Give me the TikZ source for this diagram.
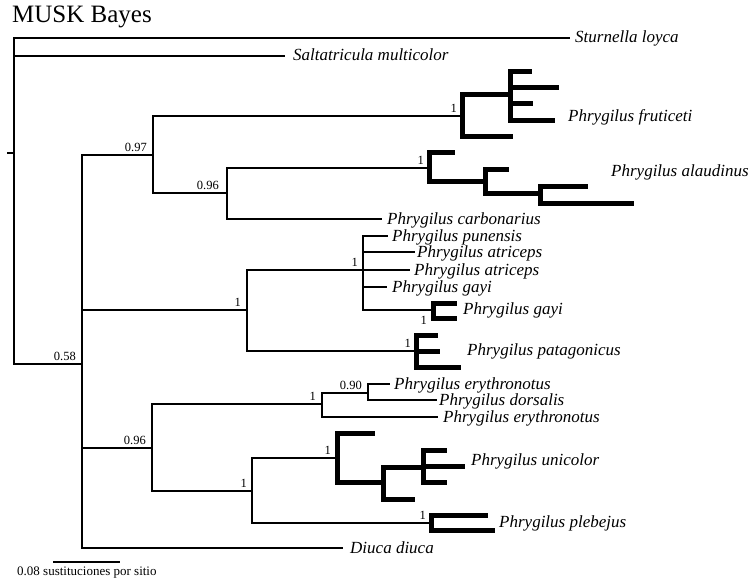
\documentclass[tikz,border=0pt]{standalone}
\usepackage{fontspec}
\setmainfont{Liberation Serif}
\begin{document}
\begin{tikzpicture}[x=1pt,y=-1pt,
  branch/.style={line width=2.8pt, line join=miter},
  clade/.style={line width=5pt, line join=miter},
  taxon/.style={anchor=base west, inner sep=0pt, font=\fontsize{17}{20}\selectfont\itshape},
  support/.style={anchor=base east, inner sep=0pt, font=\fontsize{12.5}{14}\selectfont},
]
\useasboundingbox (0,0) rectangle (750,583);

% title
\node[anchor=base west, inner sep=0pt, font=\fontsize{25}{30}\selectfont] (title) at (12,23) {MUSK Bayes};

% ---- internal nodes (x of the split, y of the incoming branch)
\coordinate (stub)  at (7,153);
\coordinate (root)  at (14,153);
\coordinate (n058)  at (82,364);
\coordinate (n097)  at (153,155);
\coordinate (nfru)  at (462,116);
\coordinate (nfruB) at (510,95);
\coordinate (n096a) at (227,193);
\coordinate (nala)  at (429,168);
\coordinate (nalaB) at (485,182);
\coordinate (nalaC) at (540,194);
\coordinate (n1a)   at (247,310);
\coordinate (npun)  at (363,270);
\coordinate (ngay)  at (433,310);
\coordinate (npat)  at (416,351);
\coordinate (n096b) at (152,448);
\coordinate (nery)  at (322,404);
\coordinate (n090)  at (368,393);
\coordinate (nuniA) at (252,491);
\coordinate (nuni)  at (337,458);
\coordinate (nuniB) at (383,482);
\coordinate (nuniC) at (423,467);
\coordinate (nple)  at (431,523);

% ---- tips
\coordinate (tStu)  at (570,38);
\coordinate (tSal)  at (285,56);
\coordinate (tFru1) at (532,72);
\coordinate (tFru2) at (559,88);
\coordinate (tFru3) at (533,104);
\coordinate (tFru4) at (555,121);
\coordinate (tFru5) at (513,137);
\coordinate (tAla1) at (455,153);
\coordinate (tAla2) at (509,170);
\coordinate (tAla3) at (588,187);
\coordinate (tAla4) at (634,203);
\coordinate (tCar)  at (382,219);
\coordinate (tPun)  at (388,236);
\coordinate (tAtr1) at (415,252);
\coordinate (tAtr2) at (410,270);
\coordinate (tGay1) at (387,287);
\coordinate (tGay2) at (457,303);
\coordinate (tGay3) at (457,318);
\coordinate (tPat1) at (438,335);
\coordinate (tPat2) at (440,351);
\coordinate (tPat3) at (461,367);
\coordinate (tEry1) at (390,384);
\coordinate (tDor)  at (437,400);
\coordinate (tEry2) at (438,417);
\coordinate (tUni1) at (375,433);
\coordinate (tUni2) at (447,450);
\coordinate (tUni3) at (465,466);
\coordinate (tUni4) at (447,482);
\coordinate (tUni5) at (415,499);
\coordinate (tPle1) at (488,515);
\coordinate (tPle2) at (495,530);
\coordinate (tDiu)  at (343,548);

% ---- thin branches
\draw[branch] (stub) -- (root);
\foreach \c in {tStu,tSal,n058} \draw[branch] (root) |- (\c);
\foreach \c in {n097,n1a,n096b,tDiu} \draw[branch] (n058) |- (\c);
\foreach \c in {nfru,n096a} \draw[branch] (n097) |- (\c);
\foreach \c in {nala,tCar} \draw[branch] (n096a) |- (\c);
\foreach \c in {npun,npat} \draw[branch] (n1a) |- (\c);
\foreach \c in {tPun,tAtr1,tAtr2,tGay1,ngay} \draw[branch] (npun) |- (\c);
\foreach \c in {nery,nuniA} \draw[branch] (n096b) |- (\c);
\foreach \c in {n090,tEry2} \draw[branch] (nery) |- (\c);
\foreach \c in {tEry1,tDor} \draw[branch] (n090) |- (\c);
\foreach \c in {nuni,nple} \draw[branch] (nuniA) |- (\c);

% ---- thick terminal clades
\foreach \c in {nfruB,tFru5} \draw[clade] (nfru) |- (\c);
\foreach \c in {tFru1,tFru2,tFru3,tFru4} \draw[clade] (nfruB) |- (\c);
\foreach \c in {tAla1,nalaB} \draw[clade] (nala) |- (\c);
\foreach \c in {tAla2,nalaC} \draw[clade] (nalaB) |- (\c);
\foreach \c in {tAla3,tAla4} \draw[clade] (nalaC) |- (\c);
\foreach \c in {tGay2,tGay3} \draw[clade] (ngay) |- (\c);
\foreach \c in {tPat1,tPat2,tPat3} \draw[clade] (npat) |- (\c);
\foreach \c in {tUni1,nuniB} \draw[clade] (nuni) |- (\c);
\foreach \c in {nuniC,tUni5} \draw[clade] (nuniB) |- (\c);
\foreach \c in {tUni2,tUni3,tUni4} \draw[clade] (nuniC) |- (\c);
\foreach \c in {tPle1,tPle2} \draw[clade] (nple) |- (\c);

% ---- support values
\node[support] (s058)  at ([xshift=-6pt,yshift=3.5pt]n058)  {0.58};
\node[support] (s097)  at ([xshift=-6pt,yshift=3.5pt]n097)  {0.97};
\node[support] (sfru)  at ([xshift=-5pt,yshift=3.5pt]nfru)  {1};
\node[support] (s096a) at ([xshift=-8pt,yshift=3.5pt]n096a) {0.96};
\node[support] (sala)  at ([xshift=-5pt,yshift=3.5pt]nala)  {1};
\node[support] (s1a)   at ([xshift=-6pt,yshift=3.5pt]n1a)   {1};
\node[support] (spun)  at ([xshift=-5pt,yshift=3.5pt]npun)  {1};
\node[support] (sgay)  at ([xshift=-6pt,yshift=-14pt]ngay)  {1};
\node[support] (spat)  at ([xshift=-5pt,yshift=3.5pt]npat)  {1};
\node[support] (s096b) at ([xshift=-6pt,yshift=3.5pt]n096b) {0.96};
\node[support] (sery)  at ([xshift=-6pt,yshift=3.5pt]nery)  {1};
\node[support] (s090)  at ([xshift=-6pt,yshift=3.5pt]n090)  {0.90};
\node[support] (suniA) at ([xshift=-5pt,yshift=3.5pt]nuniA) {1};
\node[support] (suni)  at ([xshift=-6pt,yshift=3.5pt]nuni)  {1};
\node[support] (sple)  at ([xshift=-5pt,yshift=3.5pt]nple)  {1};

% ---- taxon names
\node[taxon] (lStu)  at (575,43)  {Sturnella loyca};
\node[taxon] (lSal)  at (293,61)  {Saltatricula multicolor};
\node[taxon] (lFru)  at (568,122) {Phrygilus fruticeti};
\node[taxon] (lAla)  at (611,176) {Phrygilus alaudinus};
\node[taxon] (lCar)  at (387,224) {Phrygilus carbonarius};
\node[taxon] (lPun)  at (392,241) {Phrygilus punensis};
\node[taxon] (lAtr1) at (417,257) {Phrygilus atriceps};
\node[taxon] (lAtr2) at (414,275) {Phrygilus atriceps};
\node[taxon] (lGay1) at (392,292) {Phrygilus gayi};
\node[taxon] (lGay2) at (463,314) {Phrygilus gayi};
\node[taxon] (lPat)  at (467,355) {Phrygilus patagonicus};
\node[taxon] (lEry1) at (394,389) {Phrygilus erythronotus};
\node[taxon] (lDor)  at (439,405) {Phrygilus dorsalis};
\node[taxon] (lEry2) at (443,422) {Phrygilus erythronotus};
\node[taxon] (lUni)  at (471,465) {Phrygilus unicolor};
\node[taxon] (lPle)  at (499,527) {Phrygilus plebejus};
\node[taxon] (lDiu)  at (350,553) {Diuca diuca};

% ---- scale bar
\coordinate (sb0) at (53,562);
\coordinate (sb1) at (120,562);
\draw[branch] (sb0) -- (sb1);
\node[anchor=base west, inner sep=0pt, font=\fontsize{13}{15}\selectfont] (sbl) at (17,575) {0.08 sustituciones por sitio};
\end{tikzpicture}
\end{document}
